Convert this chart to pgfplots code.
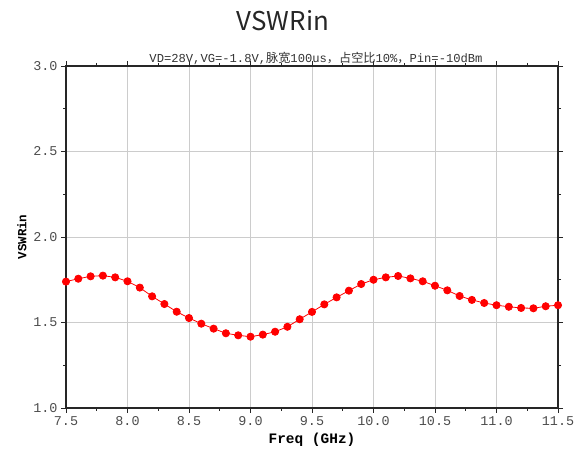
\documentclass[border=0pt]{standalone}
\usepackage{pgfplots}
\pgfplotsset{compat=1.18}
\usepackage{fontspec}
\setmainfont{Liberation Serif}
\setmonofont{Liberation Mono}
\newfontfamily\cjk{Noto Sans CJK SC}
\begin{document}
\begin{tikzpicture}[x=1bp,y=1bp]
\useasboundingbox (0,0) rectangle (575,455);
\begin{axis}[
  at={(66bp,47bp)}, anchor=origin,
  scale only axis, width=492bp, height=342bp,
  xmin=7.5, xmax=11.5, ymin=1.0, ymax=3.0,
  xtick={7.5,8.0,...,11.5}, ytick={1.0,1.5,...,3.0},
  minor x tick num=1, minor y tick num=1,
  xticklabel style={/pgf/number format/.cd,fixed,fixed zerofill,precision=1},
  yticklabel style={/pgf/number format/.cd,fixed,fixed zerofill,precision=1},
  /pgf/number format/assume math mode=true,
  ticklabel style={font=\ttfamily\fontsize{13.5}{15}\selectfont, text=black!70},
  grid=major, major grid style={gray!40, line width=0.8pt},
  axis line style={line width=1.3pt, black!85},
  major tick length=5bp, minor tick length=3bp,
  tick style={black!85, line width=0.9pt},
  tick align=outside,
  minor tick style={/pgfplots/tick align=inside},
  xlabel={\ttfamily\bfseries Freq (GHz)}, ylabel={\ttfamily\bfseries VSWRin},
  xlabel style={font=\fontsize{14.5}{16}\selectfont, yshift=-1bp},
  ylabel style={font=\fontsize{12.5}{14}\selectfont, yshift=0bp},
]
\addplot[color=red, line width=0.8pt, mark=*, mark size=3.6bp, mark options={fill=red, draw=red}] coordinates {
(7.5,1.739) (7.6,1.756) (7.7,1.770) (7.8,1.774) (7.9,1.764)
(8.0,1.741) (8.1,1.704) (8.2,1.653) (8.3,1.608) (8.4,1.563)
(8.5,1.526) (8.6,1.493) (8.7,1.464) (8.8,1.437) (8.9,1.425)
(9.0,1.417) (9.1,1.429) (9.2,1.446) (9.3,1.475) (9.4,1.519)
(9.5,1.562) (9.6,1.606) (9.7,1.647) (9.8,1.686) (9.9,1.725)
(10.0,1.750) (10.1,1.764) (10.2,1.772) (10.3,1.758) (10.4,1.741)
(10.5,1.715) (10.6,1.688) (10.7,1.655) (10.8,1.632) (10.9,1.614)
(11.0,1.601) (11.1,1.592) (11.2,1.585) (11.3,1.583) (11.4,1.595)
(11.5,1.601)
};
\end{axis}
\node[font=\cjk\fontsize{26}{30}\selectfont, text=black!85] at (283,434) {VSWRin};
\node[font=\ttfamily\fontsize{12.2}{14}\selectfont, text=black!80, anchor=base] at (316,392) {VD=28V,VG=-1.8V,{\cjk 脉宽}100us{\cjk ，}{\cjk 占空比}10\%{\cjk ，}Pin=-10dBm};
\end{tikzpicture}
\end{document}
